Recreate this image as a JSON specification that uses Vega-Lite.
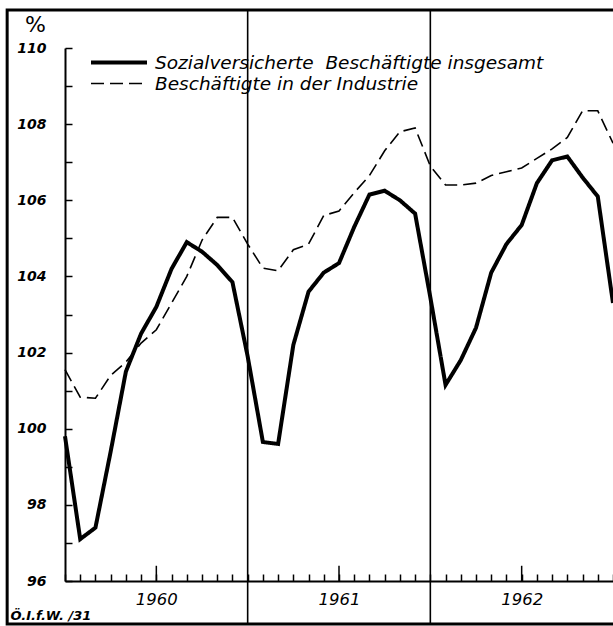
{
  "$schema": "https://vega.github.io/schema/vega-lite/v6.json",
  "width": 548,
  "height": 533,
  "autosize": "none",
  "padding": {"left": 65, "top": 48, "right": 0, "bottom": 45},
  "background": "white",
  "config": {"view": {"stroke": null}},
  "resolve": {"axis": {"x": "independent", "y": "independent"}},
  "datasets": {
    "emp": [
      {"m": 0, "series": "Sozialversicherte\u00a0 Beschäftigte insgesamt", "value": 99.8},
      {"m": 1, "series": "Sozialversicherte\u00a0 Beschäftigte insgesamt", "value": 97.1},
      {"m": 2, "series": "Sozialversicherte\u00a0 Beschäftigte insgesamt", "value": 97.4},
      {"m": 3, "series": "Sozialversicherte\u00a0 Beschäftigte insgesamt", "value": 99.4},
      {"m": 4, "series": "Sozialversicherte\u00a0 Beschäftigte insgesamt", "value": 101.5},
      {"m": 5, "series": "Sozialversicherte\u00a0 Beschäftigte insgesamt", "value": 102.5},
      {"m": 6, "series": "Sozialversicherte\u00a0 Beschäftigte insgesamt", "value": 103.2},
      {"m": 7, "series": "Sozialversicherte\u00a0 Beschäftigte insgesamt", "value": 104.2},
      {"m": 8, "series": "Sozialversicherte\u00a0 Beschäftigte insgesamt", "value": 104.9},
      {"m": 9, "series": "Sozialversicherte\u00a0 Beschäftigte insgesamt", "value": 104.65},
      {"m": 10, "series": "Sozialversicherte\u00a0 Beschäftigte insgesamt", "value": 104.3},
      {"m": 11, "series": "Sozialversicherte\u00a0 Beschäftigte insgesamt", "value": 103.85},
      {"m": 12, "series": "Sozialversicherte\u00a0 Beschäftigte insgesamt", "value": 101.9},
      {"m": 13, "series": "Sozialversicherte\u00a0 Beschäftigte insgesamt", "value": 99.65},
      {"m": 14, "series": "Sozialversicherte\u00a0 Beschäftigte insgesamt", "value": 99.6},
      {"m": 15, "series": "Sozialversicherte\u00a0 Beschäftigte insgesamt", "value": 102.2},
      {"m": 16, "series": "Sozialversicherte\u00a0 Beschäftigte insgesamt", "value": 103.6},
      {"m": 17, "series": "Sozialversicherte\u00a0 Beschäftigte insgesamt", "value": 104.1},
      {"m": 18, "series": "Sozialversicherte\u00a0 Beschäftigte insgesamt", "value": 104.35},
      {"m": 19, "series": "Sozialversicherte\u00a0 Beschäftigte insgesamt", "value": 105.3},
      {"m": 20, "series": "Sozialversicherte\u00a0 Beschäftigte insgesamt", "value": 106.15},
      {"m": 21, "series": "Sozialversicherte\u00a0 Beschäftigte insgesamt", "value": 106.25},
      {"m": 22, "series": "Sozialversicherte\u00a0 Beschäftigte insgesamt", "value": 106.0},
      {"m": 23, "series": "Sozialversicherte\u00a0 Beschäftigte insgesamt", "value": 105.65},
      {"m": 24, "series": "Sozialversicherte\u00a0 Beschäftigte insgesamt", "value": 103.45},
      {"m": 25, "series": "Sozialversicherte\u00a0 Beschäftigte insgesamt", "value": 101.15},
      {"m": 26, "series": "Sozialversicherte\u00a0 Beschäftigte insgesamt", "value": 101.8},
      {"m": 27, "series": "Sozialversicherte\u00a0 Beschäftigte insgesamt", "value": 102.65},
      {"m": 28, "series": "Sozialversicherte\u00a0 Beschäftigte insgesamt", "value": 104.1},
      {"m": 29, "series": "Sozialversicherte\u00a0 Beschäftigte insgesamt", "value": 104.85},
      {"m": 30, "series": "Sozialversicherte\u00a0 Beschäftigte insgesamt", "value": 105.35},
      {"m": 31, "series": "Sozialversicherte\u00a0 Beschäftigte insgesamt", "value": 106.45},
      {"m": 32, "series": "Sozialversicherte\u00a0 Beschäftigte insgesamt", "value": 107.05},
      {"m": 33, "series": "Sozialversicherte\u00a0 Beschäftigte insgesamt", "value": 107.15},
      {"m": 34, "series": "Sozialversicherte\u00a0 Beschäftigte insgesamt", "value": 106.6},
      {"m": 35, "series": "Sozialversicherte\u00a0 Beschäftigte insgesamt", "value": 106.1},
      {"m": 36, "series": "Sozialversicherte\u00a0 Beschäftigte insgesamt", "value": 103.3},
      {"m": 0, "series": "Beschäftigte in der Industrie", "value": 101.55},
      {"m": 1, "series": "Beschäftigte in der Industrie", "value": 100.83},
      {"m": 2, "series": "Beschäftigte in der Industrie", "value": 100.8},
      {"m": 3, "series": "Beschäftigte in der Industrie", "value": 101.4},
      {"m": 4, "series": "Beschäftigte in der Industrie", "value": 101.75},
      {"m": 5, "series": "Beschäftigte in der Industrie", "value": 102.25},
      {"m": 6, "series": "Beschäftigte in der Industrie", "value": 102.6},
      {"m": 7, "series": "Beschäftigte in der Industrie", "value": 103.3},
      {"m": 8, "series": "Beschäftigte in der Industrie", "value": 104.0},
      {"m": 9, "series": "Beschäftigte in der Industrie", "value": 104.95},
      {"m": 10, "series": "Beschäftigte in der Industrie", "value": 105.55},
      {"m": 11, "series": "Beschäftigte in der Industrie", "value": 105.55},
      {"m": 12, "series": "Beschäftigte in der Industrie", "value": 104.85},
      {"m": 13, "series": "Beschäftigte in der Industrie", "value": 104.22},
      {"m": 14, "series": "Beschäftigte in der Industrie", "value": 104.15},
      {"m": 15, "series": "Beschäftigte in der Industrie", "value": 104.7},
      {"m": 16, "series": "Beschäftigte in der Industrie", "value": 104.85},
      {"m": 17, "series": "Beschäftigte in der Industrie", "value": 105.6},
      {"m": 18, "series": "Beschäftigte in der Industrie", "value": 105.72},
      {"m": 19, "series": "Beschäftigte in der Industrie", "value": 106.2},
      {"m": 20, "series": "Beschäftigte in der Industrie", "value": 106.65},
      {"m": 21, "series": "Beschäftigte in der Industrie", "value": 107.3},
      {"m": 22, "series": "Beschäftigte in der Industrie", "value": 107.8},
      {"m": 23, "series": "Beschäftigte in der Industrie", "value": 107.9},
      {"m": 24, "series": "Beschäftigte in der Industrie", "value": 106.9},
      {"m": 25, "series": "Beschäftigte in der Industrie", "value": 106.4},
      {"m": 26, "series": "Beschäftigte in der Industrie", "value": 106.4},
      {"m": 27, "series": "Beschäftigte in der Industrie", "value": 106.45},
      {"m": 28, "series": "Beschäftigte in der Industrie", "value": 106.65},
      {"m": 29, "series": "Beschäftigte in der Industrie", "value": 106.75},
      {"m": 30, "series": "Beschäftigte in der Industrie", "value": 106.85},
      {"m": 31, "series": "Beschäftigte in der Industrie", "value": 107.1},
      {"m": 32, "series": "Beschäftigte in der Industrie", "value": 107.35},
      {"m": 33, "series": "Beschäftigte in der Industrie", "value": 107.65},
      {"m": 34, "series": "Beschäftigte in der Industrie", "value": 108.35},
      {"m": 35, "series": "Beschäftigte in der Industrie", "value": 108.35},
      {"m": 36, "series": "Beschäftigte in der Industrie", "value": 107.5}
    ],
    "years": [{"m": 12}, {"m": 24}],
    "midyears": [{"m": 6}, {"m": 18}, {"m": 30}]
  },
  "layer": [
    {
      "data": {"name": "emp"},
      "mark": {"type": "line", "color": "black", "strokeJoin": "miter"},
      "encoding": {
        "x": {
          "field": "m", "type": "quantitative",
          "scale": {"domain": [0, 36], "nice": false, "zero": false},
          "axis": {
            "values": [0,1,2,3,4,5,6,7,8,9,10,11,12,13,14,15,16,17,18,19,20,21,22,23,24,25,26,27,28,29,30,31,32,33,34,35,36],
            "labelExpr": "datum.value == 6 ? '1960' : datum.value == 18 ? '1961' : datum.value == 30 ? '1962' : ''",
            "tickSize": -7,
            "tickColor": "black", "tickWidth": 1.5,
            "domainColor": "black", "domainWidth": 2,
            "labelFont": "DejaVu Sans", "labelFontStyle": "italic", "labelFontSize": 16.5, "labelColor": "black",
            "labelPadding": 17, "labelOverlap": false, "labelFlush": false, "labelBound": false,
            "grid": false,
            "title": "Ö.I.f.W. /31",
            "titleFont": "DejaVu Sans", "titleFontStyle": "italic", "titleFontWeight": "bold", "titleFontSize": 13, "titleColor": "black",
            "titleAnchor": "start", "titleAlign": "left", "titleBaseline": "middle", "titleX": -55, "titleY": 34
          }
        },
        "y": {
          "field": "value", "type": "quantitative",
          "scale": {"domain": [96, 110], "nice": false, "zero": false},
          "axis": {
            "values": [96,97,98,99,100,101,102,103,104,105,106,107,108,109,110],
            "labelExpr": "datum.value % 2 == 0 ? datum.label : ''",
            "tickSize": -7, "tickColor": "black", "tickWidth": 1.5,
            "domainColor": "black", "domainWidth": 2,
            "labelFont": "DejaVu Sans", "labelFontStyle": "italic", "labelFontWeight": "bold", "labelFontSize": 14, "labelColor": "black",
            "labelPadding": 26, "labelOverlap": false, "labelFlush": false, "labelBound": false,
            "grid": false,
            "title": "%",
            "titleFont": "DejaVu Sans", "titleFontWeight": "normal", "titleFontSize": 22, "titleColor": "black",
            "titleAngle": 0, "titleAnchor": "end", "titleAlign": "center", "titleBaseline": "middle", "titleX": -30, "titleY": -24
          }
        },
        "strokeDash": {
          "field": "series", "type": "nominal",
          "scale": {"domain": ["Sozialversicherte\u00a0 Beschäftigte insgesamt", "Beschäftigte in der Industrie"], "range": [[1, 0], [13, 6]]},
          "legend": {
            "title": null, "orient": "none", "legendX": 24, "legendY": 4,
            "symbolType": "stroke", "symbolSize": 3136, "symbolStrokeColor": "black",
            "labelFont": "DejaVu Sans", "labelFontStyle": "italic", "labelFontSize": 18.5, "labelColor": "black",
            "labelOffset": 6, "rowPadding": 0, "clipHeight": 21, "labelLimit": 600
          }
        },
        "strokeWidth": {
          "field": "series", "type": "nominal",
          "scale": {"domain": ["Sozialversicherte\u00a0 Beschäftigte insgesamt", "Beschäftigte in der Industrie"], "range": [4, 1.6]},
          "legend": {
            "title": null, "orient": "none", "legendX": 24, "legendY": 4,
            "symbolType": "stroke", "symbolSize": 3136, "symbolStrokeColor": "black",
            "labelFont": "DejaVu Sans", "labelFontStyle": "italic", "labelFontSize": 18.5, "labelColor": "black",
            "labelOffset": 6, "rowPadding": 0, "clipHeight": 21, "labelLimit": 600
          }
        }
      }
    },
    {
      "data": {"name": "midyears"},
      "mark": {"type": "rule", "stroke": "black", "strokeWidth": 1.5},
      "encoding": {
        "x": {"field": "m", "type": "quantitative", "axis": null},
        "y": {"datum": 96, "type": "quantitative", "axis": null},
        "y2": {"datum": 96.4}
      }
    },
    {
      "data": {"name": "years"},
      "mark": {"type": "rule", "stroke": "black", "strokeWidth": 1.6, "clip": false},
      "encoding": {
        "x": {"field": "m", "type": "quantitative", "axis": null},
        "y": {"datum": 94.87, "type": "quantitative", "axis": null},
        "y2": {"datum": 111.0}
      }
    },
    {
      "data": {"values": [{}]},
      "mark": {"type": "rect", "fill": null, "stroke": "black", "strokeWidth": 3, "clip": false},
      "encoding": {
        "x": {"datum": -3.8, "type": "quantitative", "axis": null},
        "x2": {"datum": 37.5},
        "y": {"datum": 94.87, "type": "quantitative", "axis": null},
        "y2": {"datum": 111.0}
      }
    }
  ]
}
